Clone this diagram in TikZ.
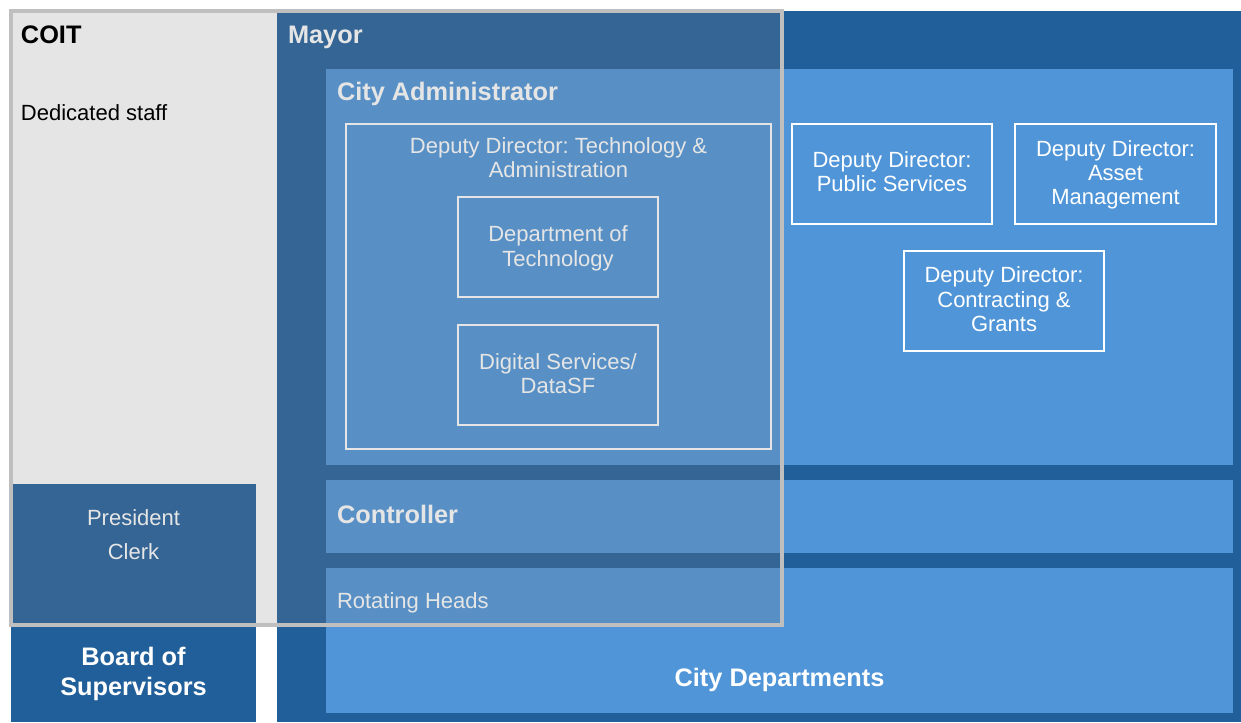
\documentclass[tikz,border=0pt]{standalone}
\usepackage{fontspec}
\setmainfont{Liberation Sans}
\frenchspacing
\definecolor{mayorblue}{HTML}{215F9A}
\definecolor{unitblue}{HTML}{4F95D8}
\definecolor{coitfill}{HTML}{808080}
\definecolor{coitedge}{HTML}{BFBFBF}
\begin{document}
\begin{tikzpicture}[x=0.75pt,y=-0.75pt,
  every node/.style={inner sep=0pt,outer sep=0pt},
  band/.style={fill=unitblue},
  branch/.style={fill=mayorblue},
  ddbox/.style={draw=white,line width=1.5pt},
  head/.style={font=\fontsize{19}{22.5}\selectfont\bfseries,text=white,anchor=base west},
  plain/.style={font=\fontsize{16.5}{18.3}\selectfont,text=white,anchor=base west},
  boxtext/.style={font=\fontsize{16.5}{18.3}\selectfont,text=white,align=center,anchor=north},
  coit/.style={draw=coitedge,line width=3pt,fill=coitfill,fill opacity=0.2}]
\useasboundingbox (0,0) rectangle (1241,722);
\fill[white] (0,0) rectangle (1241,722);

% executive branch and legislative branch
\fill[branch] (277,11) rectangle (1241,722);
\fill[branch] (11,484) rectangle (256,722);

% bands inside the Mayor's office
\fill[band] (326,69) rectangle (1233,465);
\fill[band] (326,480) rectangle (1233,553);
\fill[band] (326,568) rectangle (1233,713);

% deputy director boxes
\draw[ddbox] (346,124) rectangle (771,449);
\draw[ddbox] (458,197) rectangle (658,297);
\draw[ddbox] (458,325) rectangle (658,425);
\draw[ddbox] (792,124) rectangle (992,224);
\draw[ddbox] (1015,124) rectangle (1216,224);
\draw[ddbox] (904,251) rectangle (1104,351);

% headings
\node[head] (mayor) at (288,43.3) {Mayor};
\node[head] (cityadmin) at (337,100) {City Administrator};
\node[head] (controller) at (337,523.3) {Controller};
\node[plain] (rotating) at (337,608.3) {Rotating Heads};
\node[head,anchor=base] (citydepts) at (779.5,686) {City Departments};
\node[font=\fontsize{19}{22.5}\selectfont\bfseries,text=white,align=center,anchor=north]
  (bos) at (133.5,646.8) {Board of\\Supervisors};
\node[font=\fontsize{16.5}{25.5}\selectfont,text=white,align=center,anchor=north]
  (officers) at (133.5,509.2) {President\\Clerk};

% box labels
\node[boxtext] (ddtech) at (558.5,137.5) {Deputy Director: Technology \&\\Administration};
\node[boxtext] (dt) at (558,225.7) {Department of\\Technology};
\node[boxtext] (dsf) at (558,353.5) {Digital Services/\\DataSF};
\node[boxtext] (ddpub) at (892,151.5) {Deputy Director:\\Public Services};
\node[boxtext] (ddasset) at (1115.5,140.2) {Deputy Director:\\Asset\\Management};
\node[boxtext] (ddcontract) at (1004,266.9) {Deputy Director:\\Contracting \&\\Grants};

% COIT overlay
\draw[coit] (10.5,11) rectangle (782,625);
\node[head,text=black] (coitname) at (21,43.3) {COIT};
\node[plain,text=black] (staff) at (21,120.7) {Dedicated staff};
\end{tikzpicture}
\end{document}
